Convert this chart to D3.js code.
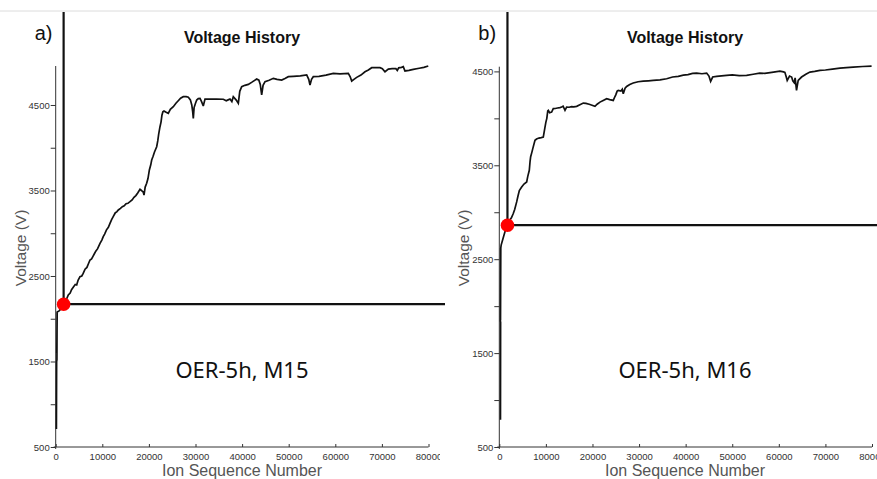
<!DOCTYPE html>
<html>
<head>
<meta charset="utf-8">
<script src="https://cdn.jsdelivr.net/npm/d3@7/dist/d3.min.js"></script>
<style>
  html, body { margin: 0; padding: 0; background: #fff; }
  svg { display: block; }
</style>
</head>
<body>
<div id="chart"></div>
<script>
// ---------- DATA ----------
const panelLabels = ["a)", "b)"];
const chartTitle = "Voltage History";
const xAxisTitle = "Ion Sequence Number";
const yAxisTitle = "Voltage (V)";
const sampleNames = ["OER-5h, M15", "OER-5h, M16"];

const xTickValues = [0, 10000, 20000, 30000, 40000, 50000, 60000, 70000, 80000];
const yTickValues = [500, 1000, 1500, 2000, 2500, 3000, 3500, 4000, 4500];
const yTickLabels = ["500", "", "1500", "", "2500", "", "3500", "", "4500"];

// [ion sequence number, voltage]
const voltageM15 = [
  [150, 710], [200, 1500], [260, 1520], [300, 2080], [240, 1600], [320, 2080],
  [800, 2095], [1300, 2130], [1630, 2170], [2100, 2220], [2400, 2240], [2700, 2278],
  [3100, 2300], [3400, 2340], [3800, 2370], [4200, 2400], [4500, 2395], [4800, 2450],
  [5210, 2492], [5600, 2500], [5900, 2530], [6300, 2580], [6700, 2600], [7000, 2640],
  [7360, 2687], [7700, 2700], [8000, 2730], [8300, 2760], [8600, 2790], [9000, 2820],
  [9510, 2882], [9900, 2920], [10200, 2960], [10500, 2990], [10900, 3040], [11300, 3070],
  [11650, 3116], [12000, 3160], [12400, 3200], [12800, 3240], [13100, 3250], [13440, 3272],
  [13900, 3290], [14300, 3310], [14700, 3320], [15100, 3345], [15500, 3350], [15940, 3369],
  [16400, 3390], [16800, 3420], [17200, 3440], [17600, 3470], [18090, 3514], [18400, 3500],
  [18600, 3490], [18800, 3480], [18950, 3447], [19200, 3540], [19520, 3584], [19800, 3640],
  [20100, 3740], [20400, 3800], [20600, 3857], [20900, 3900], [21200, 3950], [21670, 4012],
  [21900, 4080], [22100, 4160], [22380, 4246], [22600, 4300], [22800, 4380], [23000, 4420],
  [23240, 4430], [23700, 4415], [24160, 4403], [24600, 4450], [25240, 4480], [25800, 4520],
  [26300, 4550], [26800, 4580], [27380, 4597], [28000, 4597], [28460, 4590], [28900, 4560],
  [29200, 4500], [29400, 4420], [29530, 4344], [29700, 4470], [30000, 4520], [30260, 4558],
  [30600, 4575], [30970, 4578], [31300, 4540], [31670, 4488], [32040, 4570], [33500, 4568],
  [34500, 4570], [35970, 4567], [36600, 4550], [37000, 4560], [37400, 4570], [37800, 4540],
  [38110, 4597], [38700, 4560], [39190, 4520], [39500, 4660], [39910, 4714], [40600, 4730],
  [41330, 4741], [42200, 4770], [43130, 4804], [43600, 4790], [43900, 4740], [44200, 4617],
  [44500, 4730], [44920, 4773], [45800, 4790], [46700, 4812], [47500, 4800], [48500, 4792],
  [49200, 4810], [49920, 4831], [51000, 4835], [52500, 4840], [53860, 4851], [54300, 4800],
  [54570, 4734], [54900, 4800], [55280, 4831], [56500, 4835], [58000, 4850], [59570, 4870],
  [61000, 4865], [62790, 4870], [63200, 4830], [63520, 4780], [64000, 4800], [64590, 4823],
  [65500, 4850], [66370, 4889], [67100, 4910], [67810, 4936], [68700, 4938], [69590, 4936],
  [70100, 4925], [70660, 4889], [71380, 4920], [72200, 4925], [73000, 4925], [73300, 4905],
  [73600, 4935], [74200, 4940], [74590, 4948], [74950, 4898], [75800, 4905], [76740, 4917],
  [78000, 4930], [79000, 4940], [79950, 4956]
];

const voltageM16 = [
  [250, 790], [280, 1830], [230, 1840], [300, 2620], [260, 1850], [320, 2620],
  [400, 2650], [800, 2720], [1200, 2790], [1700, 2862], [2000, 2890], [2300, 2920],
  [2600, 2940], [3000, 2986], [3300, 3030], [3730, 3110], [4000, 3170], [4300, 3230],
  [4800, 3269], [5300, 3300], [5880, 3322], [6100, 3380], [6440, 3447], [6600, 3540],
  [6720, 3588], [7000, 3640], [7200, 3680], [7660, 3766], [8000, 3780], [8500, 3790],
  [9000, 3795], [9440, 3801], [9810, 3907], [10000, 3960], [10200, 4000], [10400, 4080],
  [10520, 4085], [10800, 4060], [11230, 4067], [11590, 4103], [12000, 4105], [12500, 4110],
  [13000, 4115], [13390, 4120], [13700, 4130], [14100, 4085], [14450, 4120], [15000, 4118],
  [15500, 4125], [16000, 4123], [16610, 4128], [17300, 4145], [18030, 4163], [18600, 4160],
  [19300, 4150], [19900, 4140], [20540, 4128], [21000, 4150], [21610, 4173], [22300, 4190],
  [23050, 4209], [23700, 4200], [24460, 4191], [24800, 4230], [25000, 4250], [25300, 4290],
  [25540, 4298], [26100, 4290], [26400, 4310], [26610, 4262], [27000, 4320], [27340, 4340],
  [28000, 4360], [28750, 4376], [29800, 4390], [30900, 4397], [32000, 4400], [33050, 4404],
  [34500, 4410], [35920, 4422], [37200, 4440], [38410, 4447], [39500, 4460], [40500, 4465],
  [41500, 4478], [42360, 4482], [43500, 4475], [44510, 4482], [45000, 4450], [45360, 4394],
  [45800, 4440], [46650, 4447], [47700, 4452], [48800, 4457], [50000, 4462], [51500, 4455],
  [53090, 4457], [54500, 4470], [55890, 4482], [57000, 4478], [58500, 4490], [60230, 4503],
  [61000, 4495], [61300, 4490], [61600, 4440], [61800, 4404], [62300, 4450], [62750, 4440],
  [63000, 4400], [63300, 4380], [63500, 4430], [63800, 4298], [64000, 4360], [64160, 4404],
  [64880, 4440], [65800, 4470], [66680, 4493], [67700, 4500], [68830, 4510], [70000, 4515],
  [71500, 4525], [73120, 4535], [74500, 4540], [75960, 4546], [78000, 4552], [79910, 4557]
];

// marker (red dot + crosshair) at [ion sequence number, voltage]
const markerM15 = [1700, 2170];
const markerM16 = [1750, 2862];

const yMaxM15 = 4956;
const yMaxM16 = 4550;

// ---------- LAYOUT ----------
const W = 877, H = 479;
const FONT = "'Liberation Sans', Arial, sans-serif";
const svg = d3.select("#chart").append("svg").attr("width", W).attr("height", H)
  .style("font-family", FONT);

svg.append("line").attr("x1", 0).attr("x2", W).attr("y1", 11).attr("y2", 11)
  .attr("stroke", "#dcdcdc").attr("stroke-width", 1);

const panels = [
  { label: panelLabels[0], name: sampleNames[0], data: voltageM15, marker: markerM15, yMax: yMaxM15,
    x0: 55.7, x1: 428.5, yTop: 66, clipRight: 440, lineRight: 445, cx: 242 },
  { label: panelLabels[1], name: sampleNames[1], data: voltageM16, marker: markerM16, yMax: yMaxM16,
    x0: 499.3, x1: 872, yTop: 66.7, clipRight: 877, lineRight: 877, cx: 685 }
];
const yBottom = 447;

panels.forEach((p, i) => {
  const x = d3.scaleLinear().domain([0, 80000]).range([p.x0, p.x1]);
  const y = d3.scaleLinear().domain([500, p.yMax]).range([yBottom, p.yTop]);

  const clipId = "clip" + i;
  svg.append("clipPath").attr("id", clipId)
    .append("rect").attr("x", p.x0 - 60).attr("y", 0).attr("width", p.clipRight - (p.x0 - 60)).attr("height", H);

  const g = svg.append("g").attr("clip-path", `url(#${clipId})`);

  // y axis
  const yAx = g.append("g").attr("transform", `translate(${p.x0},0)`)
    .call(d3.axisLeft(y).tickValues(yTickValues)
      .tickFormat((d, k) => yTickLabels[k]).tickSizeInner(5).tickSizeOuter(0).tickPadding(1));
  yAx.attr("font-family", null);
  yAx.select(".domain").attr("stroke", "#333").attr("d", `M0,${p.yTop}V${yBottom + 2}`);
  yAx.selectAll(".tick line").attr("stroke", "#333");
  yAx.selectAll("text").style("font-size", "9.5px").attr("fill", "#333");

  // x axis
  const xAx = g.append("g").attr("transform", `translate(0,${yBottom})`)
    .call(d3.axisBottom(x).tickValues(xTickValues).tickFormat(d3.format("d"))
      .tickSizeInner(-3).tickSizeOuter(0).tickPadding(6));
  xAx.attr("font-family", null);
  xAx.select(".domain").attr("stroke", "#333").attr("d", `M${p.x0 - 2},0H${p.x1}`);
  xAx.selectAll(".tick line").attr("stroke", "#333");
  xAx.selectAll("text").style("font-size", "9.5px").attr("fill", "#333");

  // data line
  const line = d3.line().x(d => x(d[0])).y(d => y(d[1]));
  g.append("path").datum(p.data).attr("d", line)
    .attr("fill", "none").attr("stroke", "#111").attr("stroke-width", 1.7)
    .attr("stroke-linejoin", "miter").attr("stroke-miterlimit", 3);

  // titles
  g.append("text").attr("x", p.cx).attr("y", 43).attr("text-anchor", "middle")
    .style("font-size", "16px").style("font-weight", "bold").attr("fill", "#111").text(chartTitle);
  g.append("text").attr("x", p.cx).attr("y", 476).attr("text-anchor", "middle")
    .style("font-size", "16px").attr("fill", "#555").text(xAxisTitle);
  g.append("text").attr("transform", `translate(${p.x0 - 30},248) rotate(-90)`)
    .attr("text-anchor", "middle").style("font-size", "15.5px").attr("fill", "#555").text(yAxisTitle);
});

// overlays (crosshair, marker, labels) drawn on top
panels.forEach((p, i) => {
  const x = d3.scaleLinear().domain([0, 80000]).range([p.x0, p.x1]);
  const y = d3.scaleLinear().domain([500, p.yMax]).range([yBottom, p.yTop]);
  const mx = x(p.marker[0]), my = y(p.marker[1]);

  svg.append("line").attr("x1", mx).attr("x2", mx).attr("y1", 12).attr("y2", my)
    .attr("stroke", "#111").attr("stroke-width", 2.2);
  svg.append("line").attr("x1", mx).attr("x2", p.lineRight).attr("y1", my).attr("y2", my)
    .attr("stroke", "#111").attr("stroke-width", 2.2);
  svg.append("circle").attr("cx", mx).attr("cy", my).attr("r", 6.8).attr("fill", "#ff0000");

  svg.append("text").attr("x", p.x0 - 21).attr("y", 40).style("font-size", "20px")
    .attr("fill", "#111").text(p.label);
  svg.append("text").attr("x", p.cx).attr("y", 378).attr("text-anchor", "middle")
    .style("font-family", "'Noto Sans', 'Open Sans', sans-serif")
    .style("font-size", "22px").attr("fill", "#111").text(p.name);
});
</script>
</body>
</html>
